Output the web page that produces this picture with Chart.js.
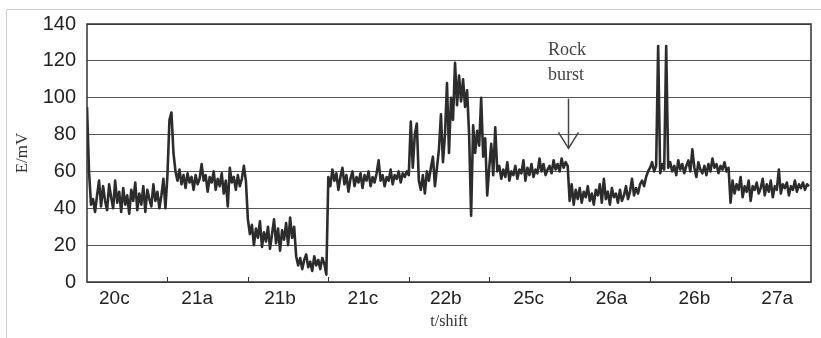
<!DOCTYPE html>
<html>
<head>
<meta charset="utf-8">
<script src="https://cdn.jsdelivr.net/npm/chart.js@4.4.0/dist/chart.umd.min.js"></script>
<style>
  html, body { margin: 0; padding: 0; background: #fff; }
  #wrap { width: 821px; height: 338px; }
</style>
</head>
<body>
<div id="wrap"><canvas id="chart" width="821" height="338"></canvas></div>
<script>
// shift labels along the bottom, y tick values
var shiftLabels = ['20c', '21a', '21b', '21c', '22b', '25c', '26a', '26b', '27a'];
var yTicks = [0, 20, 40, 60, 80, 100, 120, 140];

// E/mV, 40 readings per shift
var s20c = [95, 60, 42, 45, 38, 47, 55, 41, 52, 44, 39, 53, 46, 40, 55, 43, 49, 38, 51, 42, 47, 37, 50, 44, 54, 39, 48, 42, 52, 38, 50, 45, 41, 53, 44, 49, 40, 47, 56, 40];
var s21a = [58, 88, 92, 70, 60, 55, 61, 53, 58, 51, 59, 54, 57, 50, 58, 53, 56, 64, 55, 58, 49, 57, 54, 60, 50, 56, 52, 59, 48, 55, 41, 62, 54, 57, 50, 58, 52, 56, 63, 55];
var s21b = [34, 26, 31, 20, 29, 24, 33, 19, 27, 22, 30, 18, 26, 34, 21, 29, 17, 28, 23, 32, 20, 35, 24, 30, 14, 9, 13, 7, 12, 15, 8, 11, 6, 14, 9, 12, 7, 13, 10, 4];
var s21c = [57, 52, 61, 55, 59, 50, 57, 62, 53, 58, 49, 56, 60, 52, 57, 54, 59, 51, 58, 55, 60, 52, 57, 54, 59, 66, 55, 58, 52, 57, 55, 61, 53, 58, 56, 60, 54, 59, 57, 60];
var s22b = [58, 87, 62, 80, 86, 55, 50, 58, 48, 60, 55, 62, 68, 52, 62, 72, 91, 65, 80, 108, 70, 100, 88, 119, 96, 112, 98, 110, 95, 104, 80, 36, 85, 70, 82, 74, 100, 68, 78, 47];
var s25c = [62, 75, 58, 84, 60, 63, 56, 61, 57, 65, 55, 60, 58, 63, 56, 61, 59, 66, 55, 62, 58, 64, 57, 61, 59, 67, 60, 64, 58, 61, 63, 59, 66, 61, 64, 60, 67, 62, 65, 63];
var s26a = [44, 53, 42, 50, 45, 51, 43, 49, 46, 52, 44, 48, 42, 50, 47, 53, 43, 56, 45, 49, 42, 51, 46, 48, 43, 50, 44, 47, 52, 45, 49, 56, 47, 51, 48, 53, 55, 52, 57, 60];
var s26b = [62, 65, 60, 63, 128, 59, 64, 61, 128, 62, 65, 60, 63, 58, 66, 61, 64, 59, 63, 66, 60, 72, 62, 57, 65, 61, 59, 63, 58, 64, 60, 67, 62, 64, 59, 63, 61, 65, 60, 62];
var s27a = [43, 55, 48, 53, 50, 57, 46, 52, 49, 55, 44, 52, 50, 54, 48, 51, 56, 47, 53, 49, 55, 46, 52, 50, 61, 48, 53, 51, 54, 47, 52, 50, 55, 49, 53, 51, 54, 50, 53, 52];

var shifts = [s20c, s21a, s21b, s21c, s22b, s25c, s26a, s26b, s27a];

// each shift covers one unit on the x axis
var points = [];
shifts.forEach(function (vals, k) {
    vals.forEach(function (v, i) {
        points.push({ x: k + i / vals.length, y: v });
    });
});

// frame, boundary ticks and the rock burst note
var decor = {
    id: 'decor',
    beforeDraw: function (chart) {
        var ctx = chart.ctx;
        ctx.save();
        ctx.strokeStyle = '#cfcfcf';
        ctx.lineWidth = 1;
        ctx.beginPath();
        ctx.moveTo(6.5, 338);
        ctx.lineTo(6.5, 9.5);
        ctx.lineTo(821, 9.5);
        ctx.stroke();
        ctx.restore();
    },
    afterDraw: function (chart) {
        var ctx = chart.ctx, a = chart.chartArea, xs = chart.scales.x, ys = chart.scales.y;
        ctx.save();
        ctx.strokeStyle = '#333';
        ctx.lineWidth = 1.5;
        ctx.strokeRect(a.left, a.top, a.right - a.left, a.bottom - a.top);

        ctx.lineWidth = 1;
        for (var k = 1; k < shiftLabels.length; k++) {
            var px = Math.round(xs.getPixelForValue(k)) + 0.5;
            ctx.beginPath();
            ctx.moveTo(px, a.bottom);
            ctx.lineTo(px, a.bottom - 5);
            ctx.stroke();
        }

        // arrow
        var ax = Math.round(xs.getPixelForValue(5.98)) + 0.5;
        var top = ys.getPixelForValue(99.5), tip = ys.getPixelForValue(72.5);
        ctx.strokeStyle = '#444';
        ctx.lineWidth = 1.5;
        ctx.beginPath();
        ctx.moveTo(ax, top);
        ctx.lineTo(ax, tip);
        ctx.stroke();
        ctx.beginPath();
        ctx.moveTo(ax - 10, tip - 16);
        ctx.lineTo(ax, tip);
        ctx.lineTo(ax + 10, tip - 16);
        ctx.stroke();

        ctx.fillStyle = '#444';
        ctx.font = '18px "Liberation Serif"';
        ctx.textAlign = 'left';
        ctx.textBaseline = 'middle';
        var tx = xs.getPixelForValue(5.73);
        ctx.fillText('Rock', tx, ys.getPixelForValue(125.5));
        ctx.fillText('burst', tx, ys.getPixelForValue(112));
        ctx.restore();
    }
};

var chart = new Chart(document.getElementById('chart'), {
    type: 'line',
    data: {
        datasets: [{
            data: points,
            borderColor: '#2c2c2c',
            borderWidth: 2.6,
            borderJoinStyle: 'round',
            pointRadius: 0,
            fill: false
        }]
    },
    options: {
        responsive: false,
        animation: false,
        devicePixelRatio: 1,
        layout: { padding: { top: 24, right: 10, left: 0, bottom: 0 } },
        plugins: {
            legend: { display: false },
            tooltip: { enabled: false }
        },
        scales: {
            x: {
                type: 'linear',
                min: 0,
                max: 9,
                afterBuildTicks: function (axis) {
                    axis.ticks = shiftLabels.map(function (l, k) {
                        return { value: 0.34 + k * 1.03 };
                    });
                },
                afterFit: function (axis) { axis.height = 56; },
                grid: { display: false, drawTicks: false },
                border: { display: false },
                ticks: {
                    autoSkip: false,
                    maxRotation: 0,
                    padding: 5,
                    color: '#222',
                    font: { family: '"Liberation Sans", Arial, sans-serif', size: 19 },
                    callback: function (v, i) { return shiftLabels[i]; }
                },
                title: {
                    display: true,
                    text: 't/shift',
                    color: '#333',
                    font: { family: '"Liberation Serif", serif', size: 16 },
                    padding: { top: 0, bottom: 7 }
                }
            },
            y: {
                min: 0,
                max: 140,
                afterBuildTicks: function (axis) {
                    axis.ticks = yTicks.map(function (v) { return { value: v }; });
                },
                afterFit: function (axis) { axis.width = 87; },
                grid: { color: '#555', lineWidth: 1, drawTicks: false },
                border: { display: false },
                ticks: {
                    padding: 11,
                    color: '#222',
                    font: { family: '"Liberation Sans", Arial, sans-serif', size: 20 }
                },
                title: {
                    display: true,
                    text: 'E/mV',
                    color: '#333',
                    font: { family: '"Liberation Serif", serif', size: 17 },
                    padding: { top: 12, bottom: 0 }
                }
            }
        }
    },
    plugins: [decor]
});
</script>
</body>
</html>
